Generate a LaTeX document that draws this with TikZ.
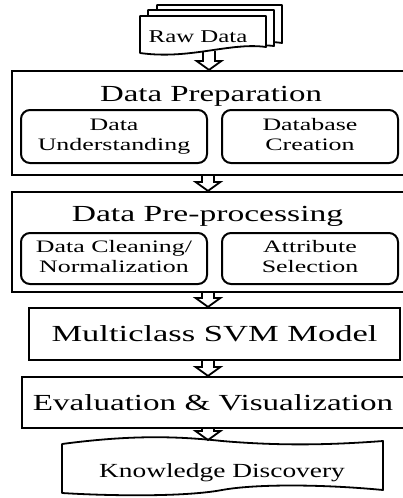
\documentclass[tikz,border=0pt]{standalone}
\usepackage{fontspec}
\setmainfont{Liberation Serif}
\usetikzlibrary{calc}
\newcommand\wide[2]{\scalebox{#1}[1]{#2}}
\newcommand\twoline[3]{\scalebox{#1}[1]{\begin{tabular}{@{}c@{}}#2\\#3\end{tabular}}}
\newcommand\blockarrow[2]{\draw[arrowline] let \p1=(#1), \p2=(#2) in
  (\x1-6pt,\y1) -- (\x1-6pt,\y2+9pt) -- (\x1-12.5pt,\y2+9pt) -- (\x1,\y2)
  -- (\x1+12.5pt,\y2+9pt) -- (\x1+6pt,\y2+9pt) -- (\x1+6pt,\y1);}
\tikzset{
  outerbox/.style={draw, line width=2.2pt, inner sep=0pt},
  innerbox/.style={draw, line width=2pt, rounded corners=9pt, inner sep=0pt,
    font=\fontsize{17.5}{20.6}\selectfont},
  titletext/.style={inner sep=0pt, font=\fontsize{23}{27}\selectfont},
  docline/.style={draw, fill=white, line width=1.8pt, line join=round},
  arrowline/.style={line width=1.8pt, line join=miter},
}
\begin{document}
\begin{tikzpicture}[x=1pt,y=-1pt]
\useasboundingbox (0,0) rectangle (402,498);
% Raw Data document stack
\path[docline] (157,5) -- (282,5) -- (282,43) .. controls (250,38) and (200,52) .. (157,46) -- cycle;
\path[docline] (148,10) -- (274,10) -- (274,46) .. controls (240,42) and (195,56) .. (148,50) -- cycle;
\path[docline] (140,16) -- (266,16) -- (266,47) .. controls (230,42) and (190,60) .. (140,53) -- cycle;
\node[inner sep=0pt, font=\fontsize{18}{21}\selectfont, anchor=base] (raw) at (198,42) {\wide{1.38}{Raw Data}};
\coordinate (rawbot) at (209,51);
% Data Preparation
\node[outerbox, minimum width=392pt, minimum height=104pt] (prep) at (208,123) {};
\node[titletext, anchor=base] (preptitle) at (211,101.7) {\wide{1.43}{Data Preparation}};
\node[innerbox, minimum width=186pt, minimum height=53pt] (underst) at (114,136.5) {\twoline{1.48}{Data}{Understanding}};
\node[innerbox, minimum width=176pt, minimum height=53pt] (dbcreate) at (310,136.5) {\twoline{1.48}{Database}{Creation}};
% Data Pre-processing
\node[outerbox, minimum width=392pt, minimum height=100pt] (prepro) at (208,242) {};
\node[titletext, anchor=base] (preprotitle) at (207.5,221.7) {\wide{1.46}{Data Pre-processing}};
\node[innerbox, minimum width=186pt, minimum height=51pt] (clean) at (114,258.5) {\twoline{1.48}{Data Cleaning/}{Normalization}};
\node[innerbox, minimum width=176pt, minimum height=51pt] (attr) at (310,258.5) {\twoline{1.48}{Attribute}{Selection}};
% SVM
\node[outerbox, minimum width=371pt, minimum height=52pt, font=\fontsize{23}{27}\selectfont] (svm) at (214.5,334) {\wide{1.5}{Multiclass SVM Model}};
% Evaluation
\node[outerbox, minimum width=382pt, minimum height=51pt, font=\fontsize{23}{27}\selectfont] (eval) at (213,402.5) {\wide{1.44}{Evaluation \& Visualization}};
% Knowledge Discovery
\path[docline] (62,444) .. controls (130,435) and (175,436) .. (222,441)
  .. controls (280,446) and (330,445) .. (383,441) -- (383,490)
  .. controls (320,484) and (255,484) .. (222,490)
  .. controls (185,497) and (110,496) .. (62,493) -- cycle;
\node[inner sep=0pt, font=\fontsize{20}{24}\selectfont, anchor=base] (kd) at (222,477) {\wide{1.37}{Knowledge Discovery}};
\coordinate (kdtop) at (209,440);
% arrows
\blockarrow{rawbot}{prep.north}
\blockarrow{prep.south}{prepro.north}
\blockarrow{prepro.south}{svm.north}
\blockarrow{svm.south -| prep.south}{eval.north}
\blockarrow{eval.south -| prep.south}{kdtop}
\end{tikzpicture}
\end{document}
